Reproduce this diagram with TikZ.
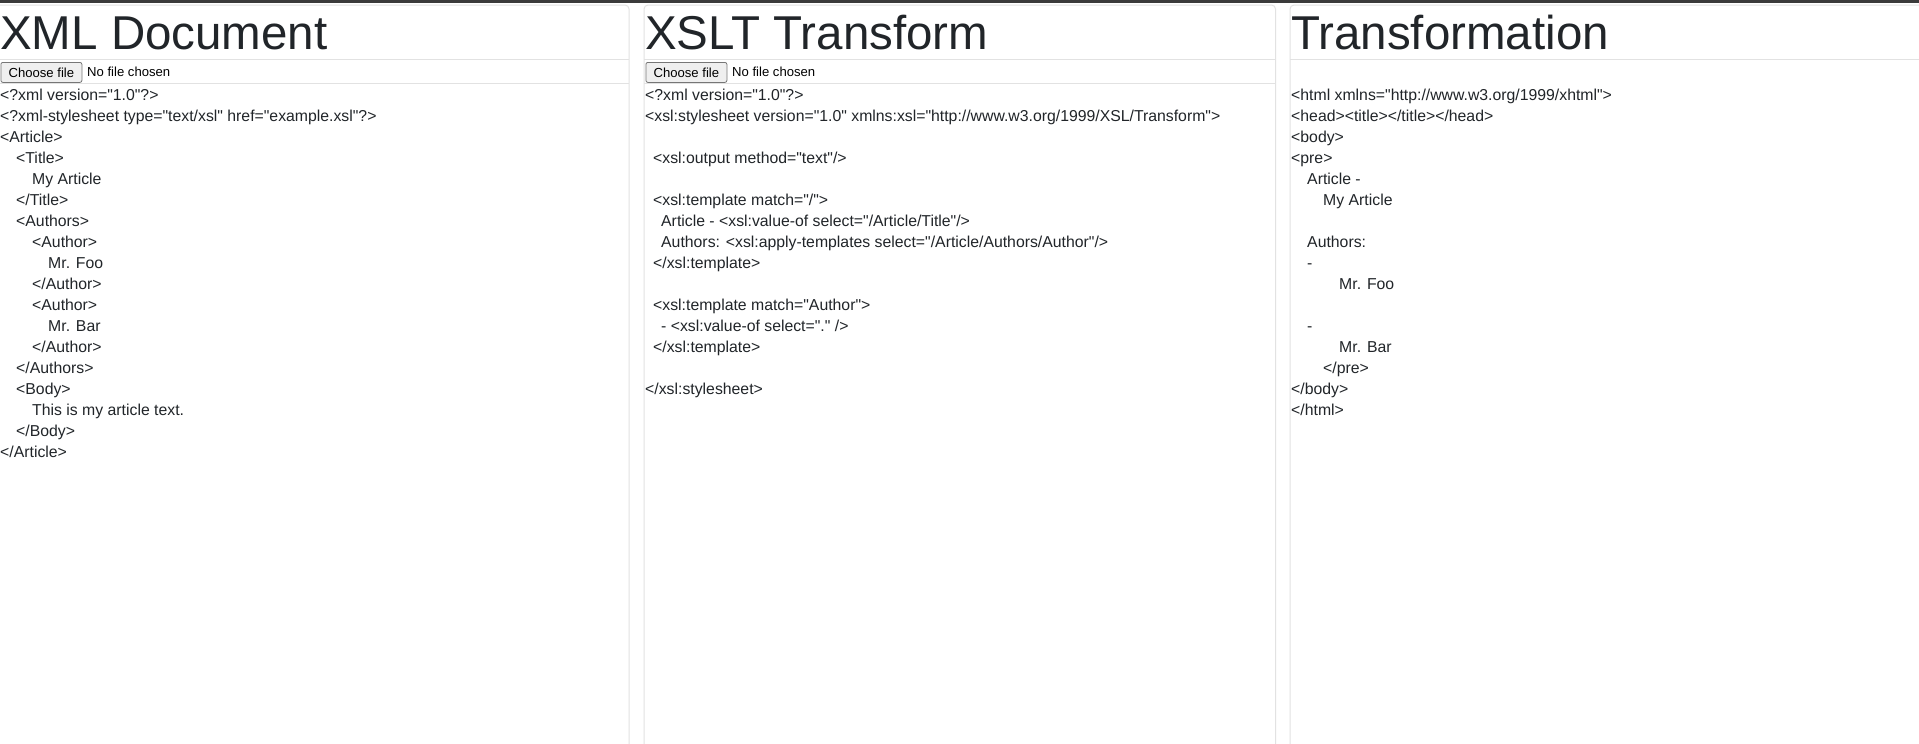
\documentclass[tikz,border=0pt]{standalone}
\usepackage{fontspec}
\setmainfont{Liberation Sans}[Ligatures=TeXOff]
\usepackage{tikz}

\definecolor{ink}{HTML}{212529}
\definecolor{rulegray}{HTML}{E2E2E2}
\definecolor{topbar}{HTML}{3B3B3B}
\definecolor{btnfill}{HTML}{EFEFEF}
\definecolor{btnline}{HTML}{767676}

\tikzset{
  heading/.style={anchor=base west, inner sep=0pt, text=ink, font=\fontsize{47.5}{50}\selectfont},
  codeline/.style={anchor=base west, inner sep=0pt, text=ink, font=\fontsize{15.8}{21}\selectfont},
  uitext/.style={anchor=base west, inner sep=0pt, text=black, font=\fontsize{13.1}{15}\selectfont},
  card/.style={draw=rulegray, line width=1pt, rounded corners=4pt},
  filebtn/.style={draw=btnline, fill=btnfill, line width=0.8pt, rounded corners=2pt, inner sep=0pt,
    anchor=north west, minimum width=81pt, minimum height=20pt, text=black, font=\fontsize{13.1}{15}\selectfont}
}

\begin{document}
\begin{tikzpicture}[x=1pt,y=-1pt]
\useasboundingbox[fill=white] (0,0) rectangle (1919,744);
\fill[topbar] (0,0) rectangle (1919,3);

\draw[card] (-6,5) rectangle (629,760);
\draw[card] (644,5) rectangle (1275.5,760);
\draw[card] (1290,5) rectangle (1925,760);

\draw[rulegray, line width=1pt] (0,59) -- (629,59);
\draw[rulegray, line width=1pt] (0,83) -- (629,83);
\draw[rulegray, line width=1pt] (644,59) -- (1275.5,59);
\draw[rulegray, line width=1pt] (644,83) -- (1275.5,83);
\draw[rulegray, line width=1pt] (1290,59) -- (1919,59);

\node[heading] (h1) at (0,49.3) {XML Document};
\node[heading] (h2) at (645,49.3) {XSLT Transform};
\node[heading] (h3) at (1291,49.3) {Transformation};

\node[filebtn] (btn1) at (0.5,62) {Choose file};
\node[uitext] (nofile1) at (87,76.5) {No file chosen};
\node[filebtn] (btn2) at (645.5,62) {Choose file};
\node[uitext] (nofile2) at (732,76.5) {No file chosen};

\node[codeline] (a1) at (0,100) {<?xml version="1.0"?>};
\node[codeline] (a2) at (0,121) {<?xml-stylesheet type="text/xsl" href="example.xsl"?>};
\node[codeline] (a3) at (0,142) {<Article>};
\node[codeline] (a4) at (16,163) {<Title>};
\node[codeline] (a5) at (32,184) {My Article};
\node[codeline] (a6) at (16,205) {</Title>};
\node[codeline] (a7) at (16,226) {<Authors>};
\node[codeline] (a8) at (32,247) {<Author>};
\node[codeline] (a9) at (48,268) {Mr. Foo};
\node[codeline] (a10) at (32,289) {</Author>};
\node[codeline] (a11) at (32,310) {<Author>};
\node[codeline] (a12) at (48,331) {Mr. Bar};
\node[codeline] (a13) at (32,352) {</Author>};
\node[codeline] (a14) at (16,373) {</Authors>};
\node[codeline] (a15) at (16,394) {<Body>};
\node[codeline] (a16) at (32,415) {This is my article text.};
\node[codeline] (a17) at (16,436) {</Body>};
\node[codeline] (a18) at (0,457) {</Article>};

\node[codeline] (b1) at (645,100) {<?xml version="1.0"?>};
\node[codeline] (b2) at (645,121) {<xsl:stylesheet version="1.0" xmlns:xsl="http://www.w3.org/1999/XSL/Transform">};
\node[codeline] (b3) at (653,163) {<xsl:output method="text"/>};
\node[codeline] (b4) at (653,205) {<xsl:template match="/">};
\node[codeline] (b5) at (661,226) {Article - <xsl:value-of select="/Article/Title"/>};
\node[codeline] (b6) at (661,247) {Authors: <xsl:apply-templates select="/Article/Authors/Author"/>};
\node[codeline] (b7) at (653,268) {</xsl:template>};
\node[codeline] (b8) at (653,310) {<xsl:template match="Author">};
\node[codeline] (b9) at (661,331) {- <xsl:value-of select="." />};
\node[codeline] (b10) at (653,352) {</xsl:template>};
\node[codeline] (b11) at (645,394) {</xsl:stylesheet>};

\node[codeline] (c1) at (1291,100) {<html xmlns="http://www.w3.org/1999/xhtml">};
\node[codeline] (c2) at (1291,121) {<head><title></title></head>};
\node[codeline] (c3) at (1291,142) {<body>};
\node[codeline] (c4) at (1291,163) {<pre>};
\node[codeline] (c5) at (1307,184) {Article -};
\node[codeline] (c6) at (1323,205) {My Article};
\node[codeline] (c7) at (1307,247) {Authors:};
\node[codeline] (c8) at (1307,268) {-};
\node[codeline] (c9) at (1339,289) {Mr. Foo};
\node[codeline] (c10) at (1307,331) {-};
\node[codeline] (c11) at (1339,352) {Mr. Bar};
\node[codeline] (c12) at (1323,373) {</pre>};
\node[codeline] (c13) at (1291,394) {</body>};
\node[codeline] (c14) at (1291,415) {</html>};

\end{tikzpicture}
\end{document}
